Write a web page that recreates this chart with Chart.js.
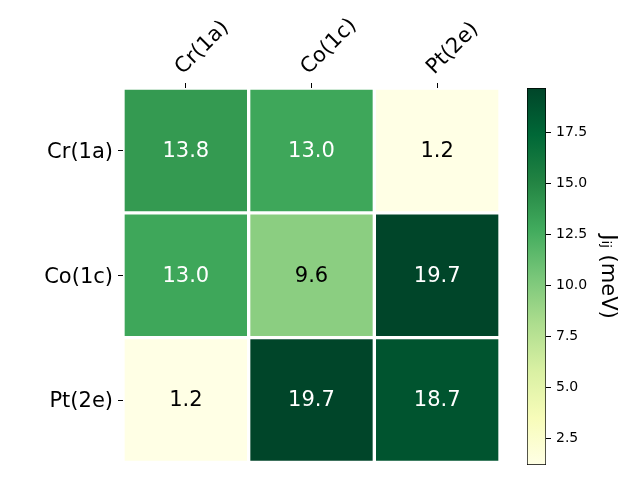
<!DOCTYPE html>
<html>
<head>
<meta charset="utf-8">
<script src="https://cdn.jsdelivr.net/npm/chart.js@4/dist/chart.umd.min.js"></script>
<style>
body { margin: 0; background: #fff; }
#wrap { position: relative; width: 640px; height: 480px; }
#wrap canvas { position: absolute; left: 0; top: 0; }
</style>
</head>
<body>
<div id="wrap">
<canvas id="heat" width="640" height="480"></canvas>
<canvas id="cbar" width="640" height="480"></canvas>
</div>
<script>
// data
var sites = ['Cr(1a)', 'Co(1c)', 'Pt(2e)'];
var rowCr = [13.8, 13.0, 1.2];
var rowCo = [13.0, 9.6, 19.7];
var rowPt = [1.2, 19.7, 18.7];
var rows = [rowCr, rowCo, rowPt];
var cbarTicks = [2.5, 5.0, 7.5, 10.0, 12.5, 15.0, 17.5];
var cbarTitle = 'Jᵢⱼ (meV)';

// YlGn colormap anchors
var ylgn = ['#ffffe5', '#f7fcb9', '#d9f0a3', '#addd8e', '#78c679', '#41ab5d', '#238443', '#006837', '#004529'];

var all = rowCr.concat(rowCo, rowPt);
var vmin = Math.min.apply(null, all);
var vmax = Math.max.apply(null, all);
var mid = (vmin + vmax) / 2;

function hex2rgb(h) {
  return [parseInt(h.substr(1, 2), 16), parseInt(h.substr(3, 2), 16), parseInt(h.substr(5, 2), 16)];
}
function cmap(v) {
  var t = (v - vmin) / (vmax - vmin);
  t = Math.max(0, Math.min(1, t)) * (ylgn.length - 1);
  var i = Math.min(Math.floor(t), ylgn.length - 2);
  var f = t - i;
  var a = hex2rgb(ylgn[i]), b = hex2rgb(ylgn[i + 1]);
  var c = a.map(function (x, k) { return Math.round(x + (b[k] - x) * f); });
  return 'rgb(' + c.join(',') + ')';
}

Chart.defaults.font.family = "'DejaVu Sans', sans-serif";
Chart.defaults.color = '#000';

var cellText = {
  id: 'cellText',
  afterDatasetsDraw: function (chart) {
    var ctx = chart.ctx;
    ctx.save();
    ctx.font = "21px 'DejaVu Sans'";
    ctx.textAlign = 'center';
    ctx.textBaseline = 'middle';
    chart.data.datasets.forEach(function (ds, i) {
      chart.getDatasetMeta(i).data.forEach(function (bar, j) {
        var v = ds.values[j];
        var p = bar.getCenterPoint();
        ctx.fillStyle = v > mid ? '#fff' : '#000';
        ctx.fillText(v.toFixed(1), p.x, p.y + 1);
      });
    });
    ctx.restore();
  }
};

new Chart(document.getElementById('heat'), {
  type: 'bar',
  data: {
    labels: sites,
    datasets: rows.map(function (r, i) {
      return {
        label: sites[i],
        data: r.map(function () { return 1; }),
        values: r,
        backgroundColor: r.map(cmap),
        borderColor: '#fff',
        borderWidth: 2,
        borderSkipped: false,
        categoryPercentage: 1,
        barPercentage: 1
      };
    })
  },
  options: {
    responsive: false,
    animation: false,
    layout: { padding: { left: 0, top: 0, right: 140, bottom: 15 } },
    plugins: { legend: { display: false }, tooltip: { enabled: false } },
    scales: {
      x: {
        position: 'top',
        stacked: true,
        afterFit: function (s) { s.height = 88; },
        grid: { offset: false, drawOnChartArea: false, tickLength: 5, color: '#000' },
        border: { display: false },
        ticks: { font: { size: 21 }, minRotation: 45, maxRotation: 45, padding: 3, labelOffset: 11 }
      },
      y: {
        type: 'linear',
        stacked: true,
        reverse: true,
        min: 0,
        max: 3,
        afterBuildTicks: function (s) {
          s.ticks = sites.map(function (n, i) { return { value: i + 0.5 }; });
        },
        afterFit: function (s) { s.width = 123; },
        grid: { drawOnChartArea: false, tickLength: 5, color: '#000' },
        border: { display: false },
        ticks: { font: { size: 21 }, padding: 5, labelOffset: 2, callback: function (v, i) { return sites[i]; } }
      }
    }
  },
  plugins: [cellText]
});

new Chart(document.getElementById('cbar'), {
  type: 'bar',
  data: {
    labels: [''],
    datasets: [{
      data: [[vmin, vmax]],
      backgroundColor: function (c) {
        var ch = c.chart;
        if (!ch.chartArea || !ch.scales.y) return 'transparent';
        var y0 = ch.scales.y.getPixelForValue(vmin);
        var y1 = ch.scales.y.getPixelForValue(vmax);
        var g = ch.ctx.createLinearGradient(0, y0, 0, y1);
        ylgn.forEach(function (col, k) { g.addColorStop(k / (ylgn.length - 1), col); });
        return g;
      },
      borderColor: '#000',
      borderWidth: 1,
      borderSkipped: false,
      categoryPercentage: 1,
      barPercentage: 1
    }]
  },
  options: {
    responsive: false,
    animation: false,
    layout: { padding: { left: 527, top: 88, bottom: 15, right: 20 } },
    plugins: { legend: { display: false }, tooltip: { enabled: false } },
    scales: {
      x: { display: false },
      y: {
        position: 'right',
        min: vmin,
        max: vmax,
        afterBuildTicks: function (s) {
          s.ticks = cbarTicks.map(function (v) { return { value: v }; });
        },
        afterFit: function (s) { s.width = 640 - 20 - 546; },
        grid: { drawOnChartArea: false, tickLength: 5, color: '#000' },
        border: { display: false },
        ticks: { font: { size: 14 }, padding: 5, callback: function (v) { return v.toFixed(1); } },
        title: { display: true, text: cbarTitle, font: { size: 21 }, padding: { top: 0, bottom: 0 } }
      }
    }
  }
});
</script>
</body>
</html>
